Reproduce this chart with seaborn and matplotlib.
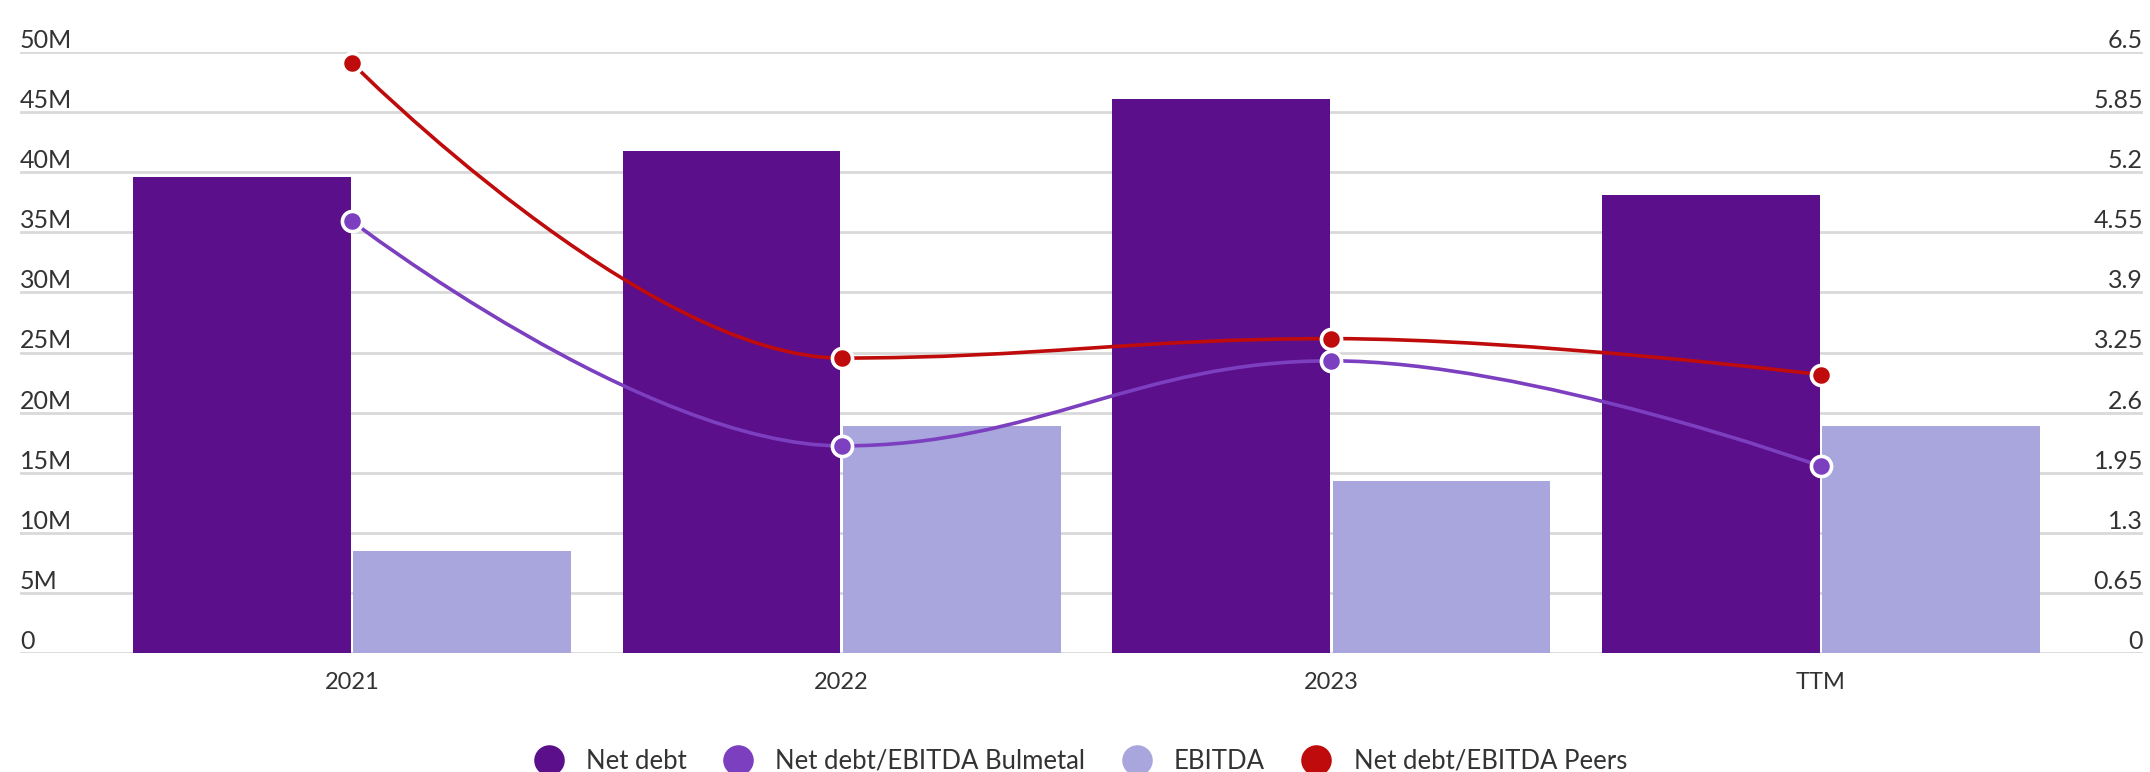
import numpy as np
import pandas as pd
import matplotlib
matplotlib.use("Agg")
import matplotlib.pyplot as plt
from matplotlib.path import Path
from matplotlib.patches import PathPatch
from matplotlib.lines import Line2D
import seaborn as sns

# data
periods = ["2021", "2022", "2023", "TTM"]
net_debt = [39.6, 41.8, 46.1, 38.1]          # millions
ebitda = [8.5, 18.85, 14.3, 18.85]           # millions
ratio_bulmetal = [4.67, 2.24, 3.16, 2.02]
ratio_peers = [6.38, 3.19, 3.40, 3.01]

left_ticks = [0, 5, 10, 15, 20, 25, 30, 35, 40, 45, 50]
left_labels = ["0", "5M", "10M", "15M", "20M", "25M", "30M", "35M", "40M", "45M", "50M"]
right_ticks = [0, 0.65, 1.3, 1.95, 2.6, 3.25, 3.9, 4.55, 5.2, 5.85, 6.5]
right_labels = ["0", "0.65", "1.3", "1.95", "2.6", "3.25", "3.9", "4.55", "5.2", "5.85", "6.5"]

c_net = "#5b0f8a"
c_bul = "#7b3fbf"
c_ebit = "#a9a6de"
c_peer = "#bf0b0b"
txt = "#333333"

sns.set_style("white")
plt.rcParams['font.family'] = ['Lato', 'DejaVu Sans']

fig = plt.figure(figsize=(21.5, 7.72), dpi=100)
ax = fig.add_axes([20 / 2150, 1 - 653 / 772, (2143 - 20) / 2150, (653 - 52) / 772])

bars = pd.DataFrame({
    "period": periods * 2,
    "series": ["Net debt"] * 4 + ["EBITDA"] * 4,
    "value": net_debt + ebitda,
})
sns.barplot(data=bars, x="period", y="value", hue="series", hue_order=["Net debt", "EBITDA"],
            palette=[c_net, c_ebit], width=0.9, gap=0.012, saturation=1, legend=False,
            linewidth=0, ax=ax)

ax.set_xlim(-0.678, 3.658)
ax.set_ylim(0, 50)
ax.set_yticks(left_ticks)
ax.set_yticklabels(left_labels)
ax.set_axisbelow(True)
ax.grid(axis="y", color="#d9d9d9", linewidth=2)
ax.grid(axis="x", visible=False)
for s in ax.spines.values():
    s.set_visible(False)
ax.set_xlabel("")
ax.set_ylabel("")
ax.tick_params(axis="y", length=0, pad=0, labelsize=18, labelcolor=txt)
ax.tick_params(axis="x", length=0, pad=14, labelsize=17, labelcolor=txt)
for lab in ax.get_yticklabels():
    lab.set_horizontalalignment("left")
    lab.set_verticalalignment("bottom")

ax2 = ax.twinx()
ax2.set_ylim(0, 6.5)
ax2.set_yticks(right_ticks)
ax2.set_yticklabels(right_labels)
ax2.grid(False)
for s in ax2.spines.values():
    s.set_visible(False)
ax2.tick_params(axis="y", length=0, pad=0, labelsize=18, labelcolor=txt)
for lab in ax2.get_yticklabels():
    lab.set_horizontalalignment("right")
    lab.set_verticalalignment("bottom")


def spline_path(xs, ys, axis, smoothing=1.5):
    # Highcharts-like spline: cubic bezier control points in pixel space
    denom = smoothing + 1
    p = axis.transData.transform(np.column_stack([xs, ys]))
    n = len(p)
    lc = [None] * n
    rc = [None] * n
    for i in range(1, n - 1):
        (lx, ly), (px, py), (nx, ny) = p[i - 1], p[i], p[i + 1]
        lcx = (smoothing * px + lx) / denom
        lcy = (smoothing * py + ly) / denom
        rcx = (smoothing * px + nx) / denom
        rcy = (smoothing * py + ny) / denom
        corr = 0
        if rcx != lcx:
            corr = (rcy - lcy) * (rcx - px) / (rcx - lcx) + py - rcy
        lcy += corr
        rcy += corr
        if lcy > ly and lcy > py:
            lcy = max(ly, py); rcy = 2 * py - lcy
        elif lcy < ly and lcy < py:
            lcy = min(ly, py); rcy = 2 * py - lcy
        if rcy > ny and rcy > py:
            rcy = max(ny, py); lcy = 2 * py - rcy
        elif rcy < ny and rcy < py:
            rcy = min(ny, py); lcy = 2 * py - rcy
        lc[i] = (lcx, lcy)
        rc[i] = (rcx, rcy)
    verts = [p[0]]
    codes = [Path.MOVETO]
    for i in range(1, n):
        verts += [rc[i - 1] if rc[i - 1] is not None else p[i - 1],
                  lc[i] if lc[i] is not None else p[i],
                  p[i]]
        codes += [Path.CURVE4] * 3
    verts = axis.transData.inverted().transform(np.array(verts, dtype=float))
    return Path(verts, codes)


xpos = np.arange(len(periods))
for vals, col in [(ratio_bulmetal, c_bul), (ratio_peers, c_peer)]:
    ax2.add_patch(PathPatch(spline_path(xpos, vals, ax2), facecolor="none",
                            edgecolor=col, linewidth=2.6, zorder=3))
    sns.scatterplot(x=xpos, y=vals, color=col, s=210, edgecolor="white", linewidth=2.6,
                    zorder=4, ax=ax2, legend=False)
ax2.set_xlim(-0.678, 3.658)
ax2.set_ylim(0, 6.5)

handles = [Line2D([], [], marker="o", linestyle="", markersize=22, color=c, markeredgewidth=0)
           for c in [c_net, c_bul, c_ebit, c_peer]]
labels = ["Net debt", "Net debt/EBITDA Bulmetal", "EBITDA", "Net debt/EBITDA Peers"]
fig.legend(handles, labels, loc="center", bbox_to_anchor=(0.5, 0.014), ncol=4, frameon=False,
           fontsize=18.5, handletextpad=0.45, columnspacing=1.0, labelcolor=txt)

fig.savefig("out.png", dpi=100)
